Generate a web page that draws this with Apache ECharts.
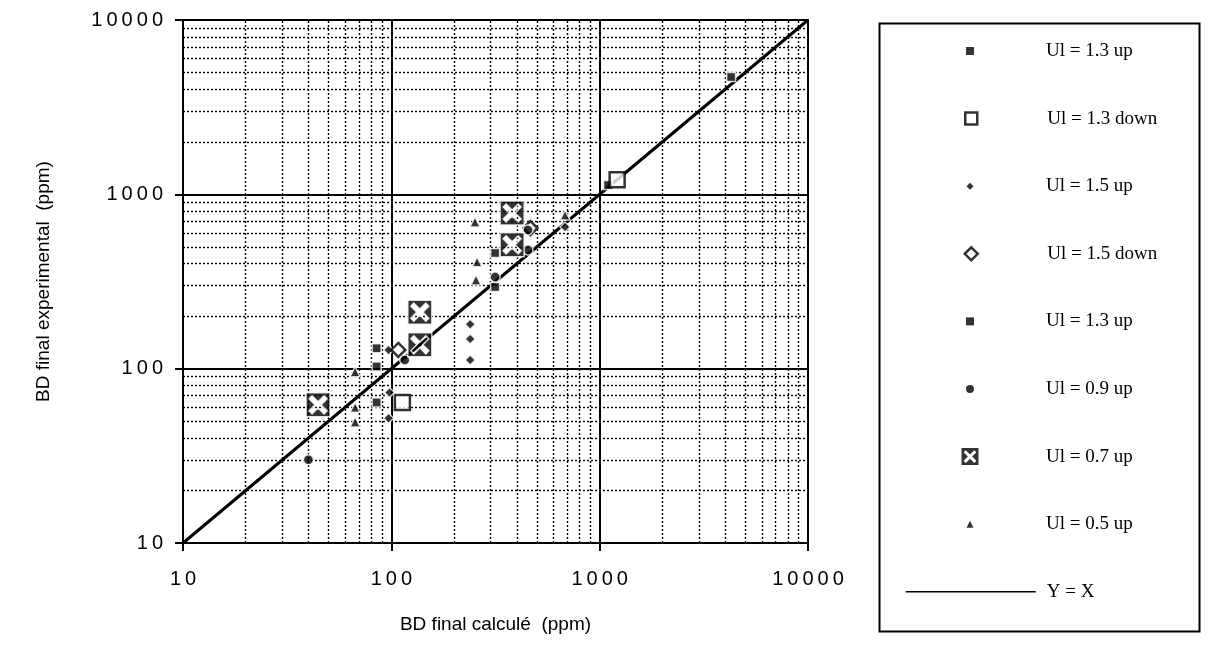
<!DOCTYPE html>
<html><head><meta charset="utf-8">
<script src="https://cdn.jsdelivr.net/npm/echarts@6/dist/echarts.min.js"></script>
<style>html,body{margin:0;padding:0;background:#fff}#c{width:1208px;height:664px}</style>
</head><body><div id="c"></div>
<script>
// ---- data ----
const xAxisName = 'BD final calculé  (ppm)';
const yAxisName = 'BD final experimental  (ppm)';
const ul13up   = [[85,131],[85,103],[1097,1133],[4275,4710]];
const ul13down = [[113,64],[1213,1211]];
const ul15up   = [[97,128],[98,73],[97,52],[239,180],[239,148],[239,112],[682,650]];
const ul15down = [[108,128],[465,640]];
const ul13upB  = [[85,64],[315,461],[315,294]];
const ul09up   = [[40,30],[116,112],[315,336],[453,625],[453,480]];
const ul07up   = [[44.5,62],[137,137],[137,211],[380,782],[380,513]];
const ul05up   = [[67,96],[67,60],[67,49.5],[258,410],[255,323],[252,695],[682,760]];
const yEqualsX = [[10,10],[10000,10000]];
const minorGrid = [20,30,40,50,60,70,80,90,200,300,400,500,600,700,800,900,2000,3000,4000,5000,6000,7000,8000,9000];
const names = ['Ul = 1.3 up','Ul = 1.3 down','Ul = 1.5 up','Ul = 1.5 down','Ul = 1.3 up ','Ul = 0.9 up','Ul = 0.7 up','Ul = 0.5 up','Y = X'];

const crossBox = 'path://M0 0L24 0L24 24L0 24Z M9 12L3 18L6 21L12 15L18 21L21 18L15 12L21 6L18 3L12 9L6 3L3 6Z';
const BLACK = '#000';
const filled = {color: BLACK, borderColor: '#fff', borderWidth: 1.5};
const open = {color: '#fff', borderColor: BLACK, borderWidth: 2.5};

const seriesDefs = [
  {name: names[0], data: ul13up,   symbol: 'rect',     size: 9,  style: filled, lg: 8,  lgStyle: {color: BLACK, borderWidth: 0}},
  {name: names[1], data: ul13down, symbol: 'rect',     size: 15, style: open,   lg: 12, lgStyle: {color: '#fff', borderColor: BLACK, borderWidth: 2.5}},
  {name: names[2], data: ul15up,   symbol: 'diamond',  size: 10, style: filled, lg: 7,  lgStyle: {color: BLACK, borderWidth: 0}},
  {name: names[3], data: ul15down, symbol: 'diamond',  size: 14, style: open,   lg: 13, lgStyle: {color: '#fff', borderColor: BLACK, borderWidth: 2.5}},
  {name: names[4], data: ul13upB,  symbol: 'rect',     size: 9,  style: filled, lg: 8,  lgStyle: {color: BLACK, borderWidth: 0}},
  {name: names[5], data: ul09up,   symbol: 'circle',   size: 10, style: filled, lg: 8,  lgStyle: {color: BLACK, borderWidth: 0}},
  {name: names[6], data: ul07up,   symbol: crossBox,   size: 24, style: filled, lg: 17, lgStyle: {color: BLACK, borderWidth: 0}},
  {name: names[7], data: ul05up,   symbol: 'triangle', size: 10, style: filled, lg: 7,  lgStyle: {color: BLACK, borderWidth: 0}}
];

const rowY0 = 51, rowStep = 67.6;
const legendIconCx = 970, legendTextX = 1046;
const legendText = {fontFamily: 'Liberation Serif', fontSize: 19, lineHeight: 22, color: BLACK};

const legends = seriesDefs.map((d, i) => {
  const left = legendIconCx - d.lg / 2;
  return {
    left: left, top: rowY0 + rowStep * i - 11, padding: 0, orient: 'vertical',
    selectedMode: false, itemWidth: d.lg, itemHeight: d.lg,
    itemStyle: d.lgStyle,
    data: [{name: d.name, icon: d.symbol}],
    textStyle: Object.assign({}, legendText, {padding: [0, 0, 0, legendTextX - (left + d.lg + 5)]})
  };
});
legends.push({
  left: 905, top: rowY0 + rowStep * 8 - 11, padding: 0, selectedMode: false,
  itemWidth: 130, itemHeight: 14, lineStyle: {width: 1.5, color: BLACK},
  itemStyle: {color: 'rgba(0,0,0,0)', borderColor: 'rgba(0,0,0,0)', borderWidth: 0, opacity: 0},
  data: [{name: names[8]}],
  textStyle: Object.assign({}, legendText, {padding: [0, 0, 0, legendTextX - 1040]})
});

const series = seriesDefs.map(d => ({
  type: 'scatter', name: d.name, data: d.data, symbol: d.symbol, symbolSize: d.size,
  itemStyle: d.style, z: 4, silent: true
}));
series.unshift({
  type: 'line', name: names[8], data: yEqualsX, symbol: 'none', showSymbol: false, z: 3, silent: true,
  lineStyle: {color: BLACK, width: 3}, itemStyle: {color: BLACK},
  markLine: {
    silent: true, symbol: 'none', z: 1, label: {show: false},
    lineStyle: {color: BLACK, width: 1.4, type: [2, 2]},
    data: minorGrid.map(v => ({xAxis: v})).concat(minorGrid.map(v => ({yAxis: v})))
  }
});

const spaced = v => String(v).split('').join('\u2009');
const tickFont = {fontFamily: 'Liberation Sans', fontSize: 20, color: BLACK};

const axisCommon = {
  type: 'log', logBase: 10, min: 10, max: 10000,
  nameLocation: 'middle',
  nameTextStyle: {fontFamily: 'Liberation Sans', fontSize: 19, color: BLACK},
  axisLine: {show: true, lineStyle: {color: BLACK, width: 2}},
  axisTick: {show: true, length: 8, lineStyle: {color: BLACK, width: 2}},
  splitLine: {show: true, lineStyle: {color: BLACK, width: 2}},
  minorTick: {show: false}, minorSplitLine: {show: false}
};

const chart = echarts.init(document.getElementById('c'), null, {renderer: 'canvas'});
chart.setOption({
  animation: false,
  backgroundColor: '#fff',
  grid: {left: 183, top: 20, width: 625, height: 523, show: true, borderColor: BLACK, borderWidth: 2, containLabel: false},
  xAxis: Object.assign({}, axisCommon, {
    name: xAxisName, nameGap: 72,
    axisLabel: Object.assign({margin: 26, formatter: spaced}, tickFont)
  }),
  yAxis: Object.assign({}, axisCommon, {
    name: yAxisName, nameGap: 130,
    axisLabel: Object.assign({margin: 20, formatter: spaced}, tickFont)
  }),
  legend: legends,
  graphic: [{
    type: 'rect', left: 877, top: 21, silent: true,
    shape: {width: 320, height: 608},
    style: {fill: 'none', stroke: BLACK, lineWidth: 2}
  }],
  series: series
});
</script></body></html>
